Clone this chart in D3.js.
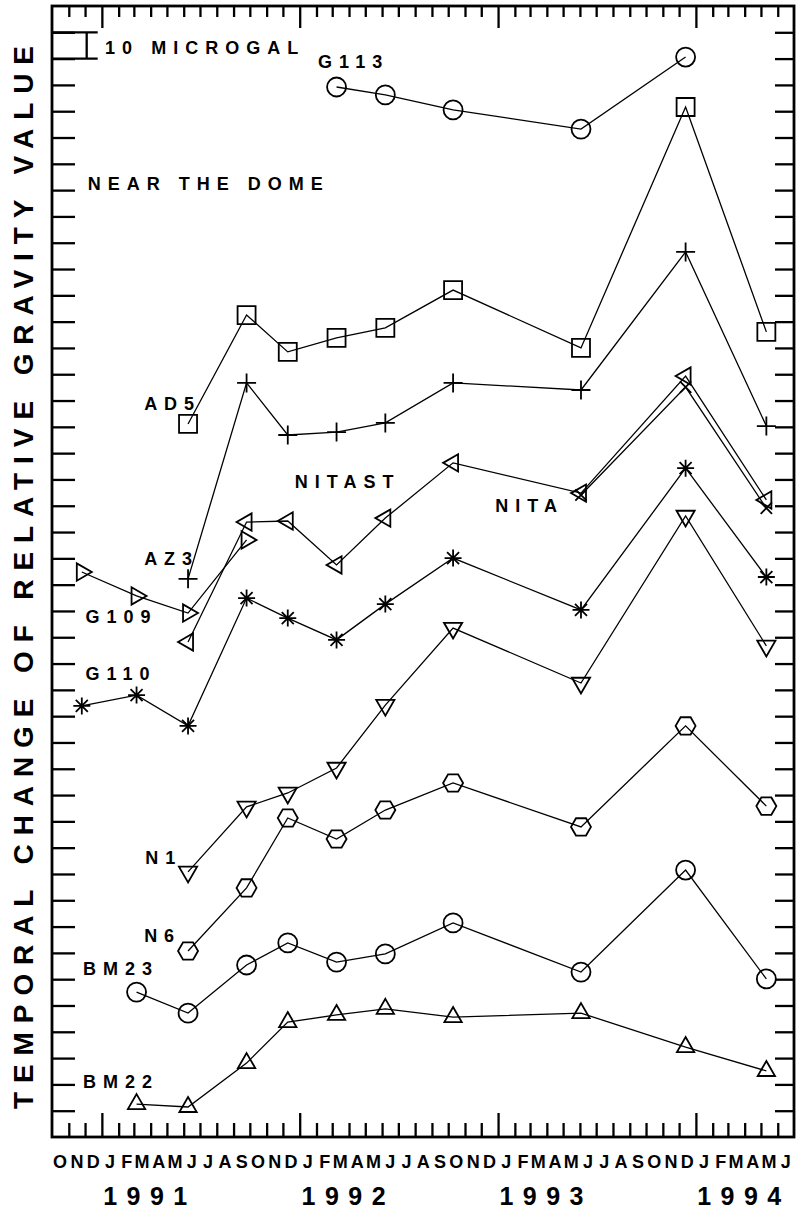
<!DOCTYPE html>
<html>
<head>
<meta charset="utf-8">
<script src="https://d3js.org/d3.v7.min.js"></script>
<style>
body { margin: 0; background: #fff; }
svg text { font-family: "Liberation Sans", Arial, Helvetica, sans-serif; fill: #000; font-weight: bold; }
</style>
</head>
<body>
<div id="chart"></div>
<script>
// dates of the gravity surveys (shared by every station)
var surveyDates = ["1990-11-25", "1991-03-06", "1991-06-09", "1991-09-25", "1991-12-10", "1992-03-09",
                   "1992-06-07", "1992-10-10", "1993-06-03", "1993-12-13", "1994-05-11"];

// relative gravity value per station, microgal (arbitrary offset), null = not surveyed
var g113   = [null, null, null, null, null, 399.2, 396.2, 390.5, 383.2, 410.6, null];
var ad5    = [null, null, 271.1, 312.5, 298.5, 303.8, 307.6, 322.0, 300.0, 391.6, 306.1];
var az3    = [null, null, 212.2, 286.7, 266.9, 268.0, 271.5, 286.7, 284.0, 336.5, 270.3];
var nitast = [null, null, 188.2, 233.8, 234.2, 217.5, 235.3, 256.3, 244.8, 289.3, 242.2];
var nita   = [null, null, null, null, null, null, null, null, 244.1, 285.1, 239.1];
var g109   = [214.8, 205.7, 199.2, 227.0, null, null, null, null, null, null, null];
var g110   = [163.9, 168.0, 156.3, 204.9, 197.3, 189.0, 202.6, 220.1, 200.4, 254.3, 212.9];
var n1     = [null, null, 100.8, 125.5, 130.8, 140.3, 164.2, 193.5, 172.6, 236.1, 186.7];
var n6     = [null, null, 70.7, 94.7, 121.3, 113.3, 124.3, 134.6, 117.9, 156.3, 125.8];
var bm23   = [null, 55.1, 47.1, 65.4, 73.8, 66.5, 69.6, 81.4, 62.7, 101.5, 60.1];
var bm22   = [null, 12.5, 11.4, 28.1, 43.7, 46.4, 48.7, 45.6, 47.1, 34.2, 25.1];

var stations = [
    {values: g113, marker: "circle"},
    {values: ad5, marker: "square"},
    {values: az3, marker: "plus"},
    {values: nitast, marker: "triLeft"},
    {values: nita, marker: "cross"},
    {values: g109, marker: "triRight"},
    {values: g110, marker: "star"},
    {values: n1, marker: "triDown"},
    {values: n6, marker: "hexagon"},
    {values: bm23, marker: "circle"},
    {values: bm22, marker: "triUp"}
];

// text notes in the plot, anchored at (date, value) of their left baseline
var noteText  = ["10 MICROGAL", "G113", "NEAR THE DOME", "AD5", "NITAST", "AZ3", "NITA",
                 "G109", "G110", "N1", "N6", "BM23", "BM22"];
var noteDate  = ["1991-01-07", "1992-02-04", "1990-12-06", "1991-03-20", "1991-12-23", "1991-03-20", "1992-12-27",
                 "1990-12-02", "1990-12-02", "1991-03-22", "1991-03-20", "1990-11-27", "1990-11-27"];
var noteValue = [411.7, 406.4, 360.0, 276.4, 246.8, 217.5, 237.6, 195.4, 173.7, 103.7, 74.1, 61.6, 18.6];

var yearLabels = [1991, 1992, 1993, 1994];
var monthLetters = "JFMAMJJASOND";
var scaleBar = [410, 420];   // 10 microgal bar

var width = 799, height = 1212;
var margin = {top: 6, right: 5, bottom: 75, left: 52};
var parse = d3.timeParse("%Y-%m-%d");

var svg = d3.select("#chart").append("svg")
    .attr("width", width)
    .attr("height", height);

var x = d3.scaleTime()
    .domain([new Date(1990, 9, 1), new Date(1994, 6, 1)])
    .range([margin.left, width - margin.right]);

var y = d3.scaleLinear()
    .domain([0, 430])
    .range([height - margin.bottom, margin.top]);

var x0 = x.range()[0], x1 = x.range()[1], y0 = y.range()[0], y1 = y.range()[1];

// month boundaries for the top/bottom ticks
var monthBounds = d3.timeMonth.range(new Date(1990, 10, 1), new Date(1994, 6, 1));
var yTicks = d3.range(10, 430, 10);

function styleTicks(g) {
    g.select(".domain").remove();
    g.selectAll(".tick line").attr("stroke", "#000").attr("stroke-width", 2.3);
}

var bottomAxis = svg.append("g")
    .attr("transform", "translate(0," + y0 + ")")
    .call(d3.axisBottom(x).tickValues(monthBounds).tickSize(-14).tickFormat(""))
    .call(styleTicks);
bottomAxis.selectAll(".tick line").filter(function(d) { return d.getMonth() === 0; }).attr("y2", -24);

var topAxis = svg.append("g")
    .attr("transform", "translate(0," + y1 + ")")
    .call(d3.axisTop(x).tickValues(monthBounds).tickSize(-11).tickFormat(""))
    .call(styleTicks);
topAxis.selectAll(".tick line").filter(function(d) { return d.getMonth() === 0; }).attr("y2", 22);

svg.append("g")
    .attr("transform", "translate(" + x0 + ",0)")
    .call(d3.axisLeft(y).tickValues(yTicks).tickSize(-23).tickFormat(""))
    .call(styleTicks);

svg.append("g")
    .attr("transform", "translate(" + x1 + ",0)")
    .call(d3.axisRight(y).tickValues(yTicks).tickSize(-19).tickFormat(""))
    .call(styleTicks);

// frame
svg.append("rect")
    .attr("x", x0).attr("y", y1)
    .attr("width", x1 - x0).attr("height", y0 - y1)
    .attr("fill", "none").attr("stroke", "#000").attr("stroke-width", 2.8);

// month initials centred in each month
var months = d3.timeMonth.range(new Date(1990, 9, 1), new Date(1994, 6, 1));
svg.append("g").selectAll("text")
    .data(months)
    .enter().append("text")
    .attr("x", function(d) { return x(d3.timeDay.offset(d, 15)); })
    .attr("y", y0 + 31)
    .attr("text-anchor", "middle")
    .attr("font-size", 18)
    .text(function(d) { return monthLetters[d.getMonth()]; });

svg.append("g").selectAll("text")
    .data(yearLabels)
    .enter().append("text")
    .attr("x", function(d) { return x(new Date(d, 2, 22)); })
    .attr("y", y0 + 68)
    .attr("text-anchor", "middle")
    .attr("font-size", 25)
    .attr("textLength", 84)
    .attr("lengthAdjust", "spacing")
    .text(function(d) { return d; });

// axis title
svg.append("text")
    .attr("transform", "translate(33," + ((y0 + y1) / 2 + 6) + ") rotate(-90)")
    .attr("text-anchor", "middle")
    .attr("font-size", 28)
    .attr("textLength", 1063)
    .attr("lengthAdjust", "spacing")
    .text("TEMPORAL CHANGE OF RELATIVE GRAVITY VALUE");

// 10 microgal scale bar
var barX = x(new Date(1990, 11, 4));
var bar = svg.append("g").attr("stroke", "#000").attr("stroke-width", 2.3);
bar.append("line").attr("x1", barX).attr("x2", barX).attr("y1", y(scaleBar[0])).attr("y2", y(scaleBar[1]));
scaleBar.forEach(function(v) {
    bar.append("line").attr("x1", x0).attr("x2", barX + 11).attr("y1", y(v)).attr("y2", y(v));
});

// marker shapes, drawn round 0,0
function polygon(p, n, r, a0) {
    for (var i = 0; i < n; i++) {
        var a = (a0 + i * 360 / n) * Math.PI / 180;
        if (i === 0) p.moveTo(r * Math.cos(a), r * Math.sin(a));
        else p.lineTo(r * Math.cos(a), r * Math.sin(a));
    }
    p.closePath();
}
function spokes(p, n, r, a0) {
    for (var i = 0; i < n; i++) {
        var a = (a0 + i * 180 / n) * Math.PI / 180;
        p.moveTo(-r * Math.cos(a), -r * Math.sin(a));
        p.lineTo(r * Math.cos(a), r * Math.sin(a));
    }
}
function markerPath(type) {
    var p = d3.path();
    if (type === "circle") { p.moveTo(9.5, 0); p.arc(0, 0, 9.5, 0, 2 * Math.PI); }
    else if (type === "square") polygon(p, 4, 9 * Math.SQRT2, 45);
    else if (type === "plus") spokes(p, 2, 9.5, 0);
    else if (type === "cross") spokes(p, 2, 8, 45);
    else if (type === "star") spokes(p, 4, 8.5, 0);
    else if (type === "triLeft") polygon(p, 3, 10, 180);
    else if (type === "triRight") polygon(p, 3, 10, 0);
    else if (type === "triDown") polygon(p, 3, 10.5, 90);
    else if (type === "triUp") polygon(p, 3, 10, -90);
    else if (type === "hexagon") polygon(p, 6, 10, 0);
    return p.toString();
}

var line = d3.line()
    .defined(function(d) { return d.v != null; })
    .x(function(d) { return x(d.date); })
    .y(function(d) { return y(d.v); });

stations.forEach(function(s) {
    var pts = s.values.map(function(v, i) { return {date: parse(surveyDates[i]), v: v}; });
    svg.append("path")
        .datum(pts)
        .attr("d", line)
        .attr("fill", "none")
        .attr("stroke", "#000")
        .attr("stroke-width", 1.3);

    svg.append("g").selectAll("path")
        .data(pts.filter(function(d) { return d.v != null; }))
        .enter().append("path")
        .attr("transform", function(d) { return "translate(" + x(d.date) + "," + y(d.v) + ")"; })
        .attr("d", markerPath(s.marker))
        .attr("fill", "none")
        .attr("stroke", "#000")
        .attr("stroke-width", 1.8);
});

// notes
svg.append("g").selectAll("text")
    .data(noteText)
    .enter().append("text")
    .attr("x", function(d, i) { return x(parse(noteDate[i])); })
    .attr("y", function(d, i) { return y(noteValue[i]); })
    .attr("font-size", 18)
    .attr("letter-spacing", 7)
    .text(function(d) { return d; });
</script>
</body>
</html>
